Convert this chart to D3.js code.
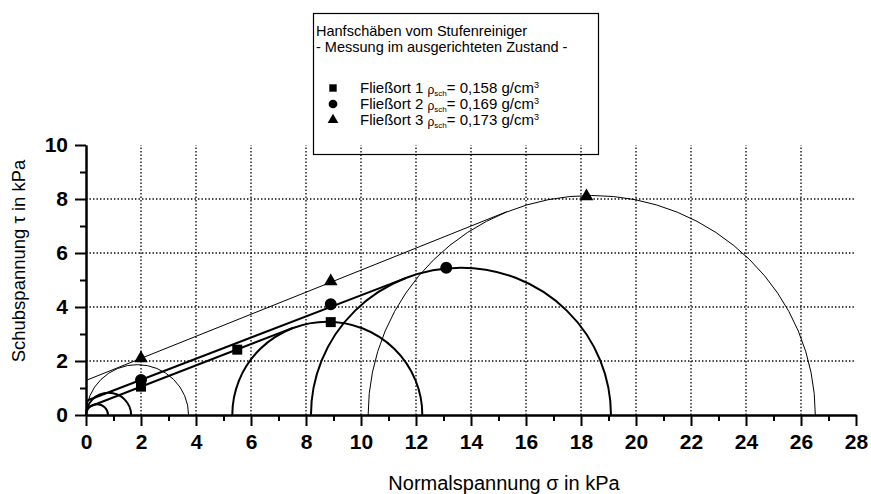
<!DOCTYPE html>
<html>
<head>
<meta charset="utf-8">
<script src="https://cdn.jsdelivr.net/npm/d3@7"></script>
<style>
  body { margin: 0; background: #fff; }
  text { font-family: "Liberation Sans", Arial, sans-serif; fill: #000; }
</style>
</head>
<body>
<div id="chart"></div>
<script>
// ---------------------------------------------------------------
// data
// ---------------------------------------------------------------
const xMajorTicks = d3.range(0, 29, 2);
const yMajorTicks = [0, 2, 4, 6, 8, 10];
const xGridTicks = d3.range(2, 27, 2);
const yGridTicks = [2, 4, 6, 8];

const seriesNames = ["Fließort 1", "Fließort 2", "Fließort 3"];
const densities = ["0,158", "0,169", "0,173"];
const titleLines = ["Hanfschäben vom Stufenreiniger", "- Messung im ausgerichteten Zustand -"];

// measured points [sigma, tau]
const fo1Points = [[2.0, 1.05], [5.5, 2.42], [8.9, 3.44]];
const fo2Points = [[2.0, 1.3], [8.9, 4.1], [13.1, 5.45]];
const fo3Points = [[2.0, 2.1], [8.9, 4.95], [18.2, 8.1]];

// Mohr circles as [sigma left, sigma right]
const fo1Circles = [[0, 0.8], [5.32, 12.23]];
const fo2Circles = [[0, 1.64], [8.18, 19.09]];
const fo3Circles = [[0, 3.73], [10.26, 26.52]];

// yield loci [start, end]
const fo1Locus = [[0, 0.26], [7.5, 3.22]];
const fo2Locus = [[0, 0.52], [11.65, 5.08]];
const fo3Locus = [[0, 1.28], [15.3, 7.53]];

// ---------------------------------------------------------------
// setup
// ---------------------------------------------------------------
const W = 871, H = 494;
const svg = d3.select("#chart").append("svg")
    .attr("width", W).attr("height", H);

const x = d3.scaleLinear().domain([0, 28]).range([86, 856]);
const y = d3.scaleLinear().domain([0, 10]).range([415, 145]);

const series = [
    { points: fo1Points, circles: fo1Circles, locus: fo1Locus, symbol: d3.symbolSquare, size: 100, legSize: 55, width: 2 },
    { points: fo2Points, circles: fo2Circles, locus: fo2Locus, symbol: d3.symbolCircle, size: 113, legSize: 60, width: 2 },
    { points: fo3Points, circles: fo3Circles, locus: fo3Locus, symbol: d3.symbolTriangle, size: 80, legSize: 50, width: 1 }
];

// grid
const grid = svg.append("g").attr("stroke", "#000").attr("stroke-width", 1.3)
    .attr("stroke-dasharray", "1.4,2.1");
grid.selectAll("line.v").data(xGridTicks).enter().append("line")
    .attr("x1", d => x(d)).attr("x2", d => x(d))
    .attr("y1", y(0)).attr("y2", y(10));
grid.selectAll("line.h").data(yGridTicks).enter().append("line")
    .attr("x1", x(0)).attr("x2", x(28))
    .attr("y1", d => y(d)).attr("y2", d => y(d));

// mohr circles
function semicircle(c) {
    const rx = x(c[1]) - x((c[0] + c[1]) / 2);
    const ry = y(0) - y((c[1] - c[0]) / 2);
    return `M${x(c[0])},${y(0)} A${rx},${ry} 0 0 1 ${x(c[1])},${y(0)}`;
}
const line = d3.line().x(d => x(d[0])).y(d => y(d[1]));

series.forEach(s => {
    svg.append("g").selectAll("path").data(s.circles).enter().append("path")
        .attr("d", semicircle)
        .attr("fill", "none").attr("stroke", "#000")
        .attr("stroke-width", s.width);
    svg.append("path").attr("d", line(s.locus))
        .attr("fill", "none").attr("stroke", "#000")
        .attr("stroke-width", s.width);
});

// markers
series.forEach(s => {
    svg.append("g").selectAll("path").data(s.points).enter().append("path")
        .attr("transform", d => `translate(${x(d[0])},${y(d[1])})`)
        .attr("d", d3.symbol().type(s.symbol).size(s.size))
        .attr("fill", "#000");
});

// axes
const xAxisG = svg.append("g").attr("transform", `translate(0,${y(0)})`);
xAxisG.call(d3.axisBottom(x).tickValues(d3.range(1, 28, 2)).tickSize(6).tickSizeOuter(0).tickFormat(""));
xAxisG.call(g => g.append("g").call(d3.axisBottom(x).tickValues(xMajorTicks).tickSize(11).tickSizeOuter(0).tickPadding(8)));
xAxisG.selectAll("path, line").attr("stroke", "#000").attr("stroke-width", 2);
xAxisG.selectAll("text").attr("font-size", 21).attr("font-weight", "bold")
    .attr("font-family", "'Liberation Sans', Arial, sans-serif").attr("fill", "#000");

const yAxisG = svg.append("g").attr("transform", `translate(${x(0)},0)`);
yAxisG.call(d3.axisLeft(y).tickValues(d3.range(1, 10, 2)).tickSize(6).tickSizeOuter(0).tickFormat(""));
yAxisG.call(g => g.append("g").call(d3.axisLeft(y).tickValues(yMajorTicks).tickSize(11).tickSizeOuter(0).tickPadding(7)));
yAxisG.selectAll("path, line").attr("stroke", "#000").attr("stroke-width", 2);
yAxisG.selectAll("text").attr("font-size", 21).attr("font-weight", "bold")
    .attr("font-family", "'Liberation Sans', Arial, sans-serif").attr("fill", "#000");

// axis titles
svg.append("text").attr("x", 504).attr("y", 490).attr("text-anchor", "middle")
    .attr("font-size", 20).text("Normalspannung σ in kPa");
svg.append("text").attr("transform", "translate(25,261) rotate(-90)")
    .attr("text-anchor", "middle").attr("font-size", 18.5).text("Schubspannung τ in kPa");

// legend
const leg = svg.append("g");
leg.append("rect").attr("x", 313.5).attr("y", 13.5).attr("width", 285).attr("height", 141)
    .attr("fill", "none").attr("stroke", "#000").attr("stroke-width", 1.2);
leg.selectAll("text.title").data(titleLines).enter().append("text")
    .attr("x", 316).attr("y", (d, i) => 36 + i * 16)
    .attr("font-size", 14.5).text(d => d);

series.forEach((s, i) => {
    const cy = 88 + i * 16;
    leg.append("path").attr("transform", `translate(333,${cy})`)
        .attr("d", d3.symbol().type(s.symbol).size(s.legSize)).attr("fill", "#000");
    const t = leg.append("text").attr("x", 360).attr("y", cy + 5).attr("font-size", 15);
    t.append("tspan").text(seriesNames[i] + " ");
    t.append("tspan").attr("font-size", 12).attr("dy", 1).text("ρ");
    t.append("tspan").attr("font-size", 8).attr("dy", 1.5).text("sch");
    t.append("tspan").attr("dy", -2.5).text("= " + densities[i] + " g/cm");
    t.append("tspan").attr("font-size", 9).attr("dy", -5).text("3");
});
</script>
</body>
</html>
